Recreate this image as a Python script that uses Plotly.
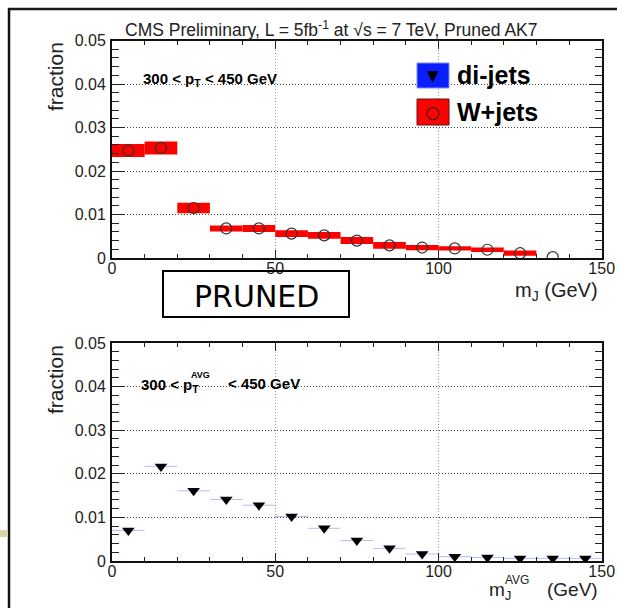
import plotly.graph_objects as go

# ---------------- data ----------------
bin_width = 10
wjets_centers = [5, 15, 25, 35, 45, 55, 65, 75, 85, 95, 105, 115, 125, 135]
wjets_frac = [0.0247, 0.0253, 0.0115, 0.0068, 0.0068, 0.0056, 0.0052, 0.0040,
              0.0029, 0.0024, 0.0022, 0.0019, 0.0011, 0.0002]
wjets_err = [0.0015, 0.0015, 0.0012, 0.0007, 0.0008, 0.0008, 0.0008, 0.0008,
             0.0008, 0.0006, 0.0005, 0.0005, 0.0006, 0.0]

dijets_centers = [5, 15, 25, 35, 45, 55, 65, 75, 85, 95, 105, 115, 125, 135, 145]
dijets_frac = [0.0070, 0.0217, 0.0161, 0.0141, 0.0128, 0.0102, 0.0075, 0.0047,
               0.0029, 0.0016, 0.0010, 0.0008, 0.0006, 0.0006, 0.0006]

x_ticks = [0, 50, 100, 150]
y_ticks = [0, 0.01, 0.02, 0.03, 0.04, 0.05]
y_tick_labels = ["0", "0.01", "0.02", "0.03", "0.04", "0.05"]

W, H = 617, 608
FONT = "Liberation Sans, Arial, Helvetica, sans-serif"


def px(x):
    return x / W


def py(y):
    return 1 - y / H


fig = go.Figure()

# W+jets error band (bars from value-err to value+err)
fig.add_trace(go.Bar(
    x=wjets_centers,
    y=[2 * e for e in wjets_err],
    base=[v - e for v, e in zip(wjets_frac, wjets_err)],
    width=bin_width,
    marker=dict(color="#ff0000", line=dict(width=0)),
    xaxis="x", yaxis="y", showlegend=False, hoverinfo="skip",
))
fig.add_trace(go.Scatter(
    x=wjets_centers, y=wjets_frac, mode="markers",
    marker=dict(symbol="circle-open", size=11, color="#333333",
                line=dict(width=1.2, color="#333333")),
    xaxis="x", yaxis="y", showlegend=False,
))

# di-jets
fig.add_trace(go.Scatter(
    x=dijets_centers, y=dijets_frac, mode="markers",
    marker=dict(symbol="triangle-down", size=11, color="black"),
    error_x=dict(type="constant", value=bin_width / 2, color="rgba(110,120,255,0.5)",
                 thickness=1, width=0),
    xaxis="x2", yaxis="y2", showlegend=False,
))

xdom = [px(112), px(601.7)]
ydom_top = [py(258), py(40.5)]
ydom_bot = [py(561), py(343)]

tickfont = dict(family=FONT, size=16, color="#222")


def xaxis_cfg(anchor):
    return dict(
        domain=xdom, range=[0, 150], anchor=anchor,
        tickmode="array", tickvals=x_ticks,
        ticks="inside", ticklen=8, tickwidth=1, tickcolor="#222",
        mirror="allticks", showline=True, linecolor="#111", linewidth=2,
        showgrid=True, gridcolor="#999", griddash="1px,2px", gridwidth=1,
        zeroline=False, tickfont=tickfont, ticklabelstandoff=-5,
        minor=dict(dtick=10, tick0=0, ticklen=4, ticks="inside", tickcolor="#222",
                   showgrid=False),
        fixedrange=True, automargin=False,
    )


def yaxis_cfg(dom, anchor):
    return dict(
        domain=dom, range=[0, 0.05], anchor=anchor,
        tickmode="array", tickvals=y_ticks, ticktext=y_tick_labels,
        ticks="inside", ticklen=13, tickwidth=1.2, tickcolor="#222",
        mirror="allticks", showline=True, linecolor="#111", linewidth=2,
        showgrid=True, gridcolor="#444", griddash="1px,2px", gridwidth=1,
        zeroline=False, tickfont=tickfont, ticklabelstandoff=1,
        minor=dict(dtick=0.002, tick0=0, ticklen=7, ticks="inside", tickcolor="#222",
                   showgrid=False),
        fixedrange=True, automargin=False,
    )


annotations = []


def ann(text, x, y, size, xanchor="left", yanchor="middle", bold=False,
        color="black", textangle=0, family=FONT):
    annotations.append(dict(
        text=text, x=px(x), y=py(y), xref="paper", yref="paper",
        xanchor=xanchor, yanchor=yanchor, showarrow=False, textangle=textangle,
        font=dict(family=family, size=size, color=color,
                  weight="bold" if bold else "normal"),
    ))


# title
ann("CMS Preliminary, L = 5fb<sup>-1</sup> at √s = 7 TeV, Pruned AK7",
    331, 29, 17.5, xanchor="center", color="#222")

# y titles
ann("fraction", 55, 77, 21, xanchor="center", textangle=-90, color="#222")
ann("fraction", 55, 380, 21, xanchor="center", textangle=-90, color="#222")

# x titles
ann("m<sub>J</sub> (GeV)", 600, 291, 20, xanchor="right", color="#222")
ann("m<sub>J</sub>", 487, 591, 19, xanchor="left", color="#222")
ann("AVG", 503, 580, 12, xanchor="left", color="#222")
ann("(GeV)", 600, 589, 19, xanchor="right", color="#222")

# pT texts
ann("300 < p<sub>T</sub> < 450 GeV", 141, 80, 15, bold=True)
ann("300 < p<sub>T</sub>", 139, 385, 15, bold=True)
ann("AVG", 189, 375, 9, bold=True)
ann("< 450 GeV", 226, 383, 15, bold=True)

# legend
ann("di-jets", 455, 75, 25, bold=True)
ann("W+jets", 455, 112, 25, bold=True)
ann("▼", 433, 76, 15, xanchor="center", family="DejaVu Sans")
ann("○", 433, 112, 17, xanchor="center", color="#222", family="DejaVu Sans")

# PRUNED label
ann("PRUNED", 256, 296, 30, xanchor="center", family="DejaVu Sans")

shapes = [
    # outer frame lines
    dict(type="line", xref="paper", yref="paper", x0=px(8), x1=1, y0=py(9), y1=py(9),
         line=dict(color="#1a1a1a", width=2.5)),
    dict(type="line", xref="paper", yref="paper", x0=px(9), x1=px(9), y0=py(8), y1=0,
         line=dict(color="#111", width=2.5)),
    # beige patch
    dict(type="rect", xref="paper", yref="paper", x0=0, x1=px(7.5), y0=py(537), y1=py(530),
         fillcolor="#d8d6a6", line=dict(width=0)),
    # PRUNED box
    dict(type="rect", xref="paper", yref="paper", x0=px(163), x1=px(349),
         y0=py(317), y1=py(271), line=dict(color="black", width=2)),
    # legend boxes
    dict(type="rect", xref="paper", yref="paper", x0=px(417), x1=px(449),
         y0=py(88), y1=py(63), fillcolor="#0a1eff", line=dict(color="#7f8cff", width=1)),
    dict(type="rect", xref="paper", yref="paper", x0=px(417), x1=px(449),
         y0=py(125), y1=py(99), fillcolor="#ff0000", line=dict(color="#661010", width=1)),
]

fig.update_layout(
    width=W, height=H, autosize=False,
    margin=dict(l=0, r=0, t=0, b=0, pad=0, autoexpand=False),
    paper_bgcolor="white", plot_bgcolor="white",
    showlegend=False,
    xaxis=xaxis_cfg("y"),
    yaxis=yaxis_cfg(ydom_top, "x"),
    xaxis2=xaxis_cfg("y2"),
    yaxis2=yaxis_cfg(ydom_bot, "x2"),
    annotations=annotations,
    shapes=shapes,
    barmode="overlay",
    font=dict(family=FONT),
)

fig.write_html(
    "out.html",
    config={"displayModeBar": False, "responsive": False},
    post_script="document.body.style.margin='0';document.body.style.padding='0';"
                "document.body.style.overflow='hidden';",
)
